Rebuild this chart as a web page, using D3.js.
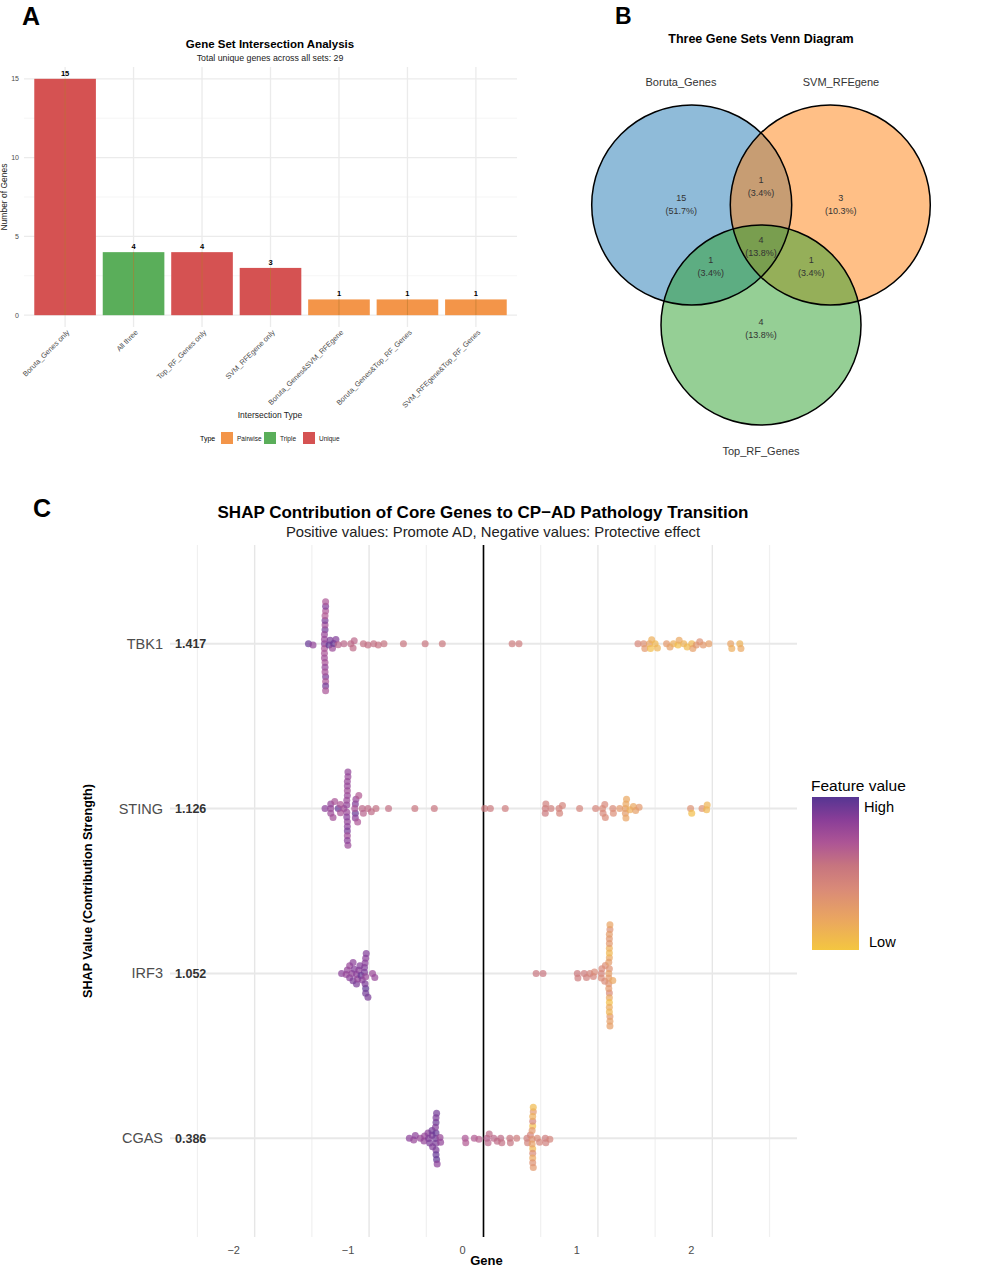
<!DOCTYPE html>
<html>
<head>
<meta charset="utf-8">
<script src="https://cdn.jsdelivr.net/npm/d3@7"></script>
<style>
body { margin: 0; background: #fff; }
svg { font-family: "Liberation Sans", Arial, sans-serif; }
</style>
</head>
<body>
<svg id="fig" width="1000" height="1270"></svg>
<script>
// ---------- Panel A: intersection bars
var interCats = ["Boruta_Genes only", "All three", "Top_RF_Genes only", "SVM_RFEgene only",
  "Boruta_Genes&SVM_RFEgene", "Boruta_Genes&Top_RF_Genes", "SVM_RFEgene&Top_RF_Genes"];
var interCounts = [15, 4, 4, 3, 1, 1, 1];
var interTypes = ["Unique", "Triple", "Unique", "Unique", "Pairwise", "Pairwise", "Pairwise"];
var typeNames = ["Pairwise", "Triple", "Unique"];
var typeColors = ["#f39549", "#5aae5a", "#d55252"];
var yTicksA = [0, 5, 10, 15];

// ---------- Panel B: venn
var vennSets = ["Boruta_Genes", "SVM_RFEgene", "Top_RF_Genes"];
var vennColors = ["#1f77b4", "#ff7f0e", "#2ca02c"];
var vennRegions = [[0], [1], [2], [0, 1], [0, 2], [1, 2], [0, 1, 2]];
var vennCounts = [15, 3, 4, 1, 1, 1, 4];

// ---------- Panel C: SHAP beeswarm  [shap value, feature value 0=low..1=high]
var genes = ["TBK1", "STING", "IRF3", "CGAS"];
var meanAbs = ["1.417", "1.126", "1.052", "0.386"];
var shapTicks = [-2, -1, 0, 1, 2];

var tbk1 = [
  [-1.53,0.95],[-1.49,0.82],
  [-1.385,0.92],[-1.38,0.9],[-1.39,0.86],[-1.385,0.72],[-1.38,0.7],[-1.39,0.72],[-1.385,0.76],[-1.38,0.7],
  [-1.39,0.8],[-1.385,0.82],[-1.38,0.88],[-1.39,0.72],[-1.385,0.9],[-1.38,0.92],[-1.39,0.8],[-1.385,0.74],
  [-1.38,0.7],[-1.39,0.76],[-1.385,0.68],[-1.38,0.72],
  [-1.35,0.97],[-1.34,0.9],[-1.32,0.78],[-1.31,0.95],[-1.29,0.88],[-1.27,0.64],[-1.22,0.62],[-1.16,0.6],
  [-1.14,0.6],[-1.13,0.62],[-1.05,0.58],[-1.01,0.58],[-0.96,0.58],[-0.92,0.57],[-0.87,0.56],[-0.70,0.55],
  [-0.51,0.55],[-0.36,0.53],
  [0.25,0.5],[0.31,0.5],
  [1.35,0.42],[1.40,0.36],[1.41,0.3],[1.45,0.22],[1.46,0.05],[1.47,0.15],[1.50,0.1],[1.52,0.12],[1.60,0.3],
  [1.63,0.25],[1.66,0.15],[1.70,0.05],[1.71,0.2],[1.75,0.14],[1.78,0.08],[1.82,0.1],[1.83,0.26],[1.86,0.32],
  [1.89,0.36],[1.92,0.3],[1.97,0.26],[2.16,0.22],[2.17,0.16],[2.24,0.14],[2.25,0.2]
];
var sting = [
  [-1.385,0.85],[-1.335,0.8],[-1.335,0.78],[-1.335,0.82],[-1.315,0.75],[-1.30,0.72],[-1.27,0.95],[-1.25,0.72],
  [-1.25,0.7],[-1.22,0.75],
  [-1.19,0.82],[-1.19,0.8],[-1.195,0.78],[-1.19,0.84],[-1.185,0.8],[-1.19,0.76],[-1.195,0.82],[-1.19,0.9],
  [-1.185,0.78],[-1.19,0.8],[-1.195,0.86],[-1.19,0.76],[-1.185,0.82],[-1.19,0.8],[-1.195,0.78],[-1.19,0.84],
  [-1.12,0.95],[-1.12,0.88],[-1.125,0.72],[-1.12,0.85],[-1.115,0.8],
  [-1.10,0.7],[-1.09,0.68],[-1.06,0.62],[-1.05,0.64],[-1.01,0.6],[-0.98,0.6],[-0.94,0.58],[-0.83,0.58],
  [-0.60,0.55],[-0.43,0.55],
  [0.01,0.52],[0.06,0.52],[0.19,0.5],[0.54,0.5],[0.545,0.48],[0.54,0.52],[0.59,0.48],[0.66,0.47],[0.665,0.45],
  [0.69,0.45],[0.84,0.45],[0.98,0.44],[1.04,0.4],[1.045,0.42],[1.06,0.42],[1.065,0.4],[1.13,0.4],[1.135,0.38],
  [1.19,0.3],[1.24,0.25],[1.245,0.2],[1.24,0.28],[1.245,0.22],[1.25,0.2],[1.28,0.15],[1.31,0.2],[1.33,0.25],
  [1.36,0.3],[1.81,0.35],[1.82,0.05],[1.91,0.35],[1.95,0.1],[1.955,0.12]
];
var irf3 = [
  [-1.24,0.85],[-1.20,0.8],[-1.19,0.82],[-1.17,0.85],[-1.17,0.8],[-1.15,0.82],[-1.14,0.9],[-1.14,0.85],
  [-1.13,0.88],[-1.11,0.85],[-1.11,0.9],[-1.10,0.82],[-1.09,0.85],[-1.08,0.88],[-1.07,0.95],[-1.06,0.85],
  [-1.04,0.9],[-1.04,0.88],
  [-1.03,0.8],[-1.03,0.97],[-1.035,0.9],[-1.03,0.85],[-1.025,0.88],[-1.03,0.92],[-1.035,0.86],
  [-1.01,0.9],[-0.97,0.78],[-0.95,0.8],
  [0.46,0.55],[0.52,0.55],[0.82,0.52],[0.825,0.5],[0.88,0.5],[0.90,0.48],[0.93,0.45],[0.96,0.45],[0.97,0.4],
  [1.03,0.45],[1.035,0.42],[1.03,0.4],[1.06,0.4],[1.065,0.38],
  [1.10,0.35],[1.10,0.2],[1.105,0.3],[1.095,0.25],[1.10,0.4],[1.10,0.1],[1.105,0.35],[1.095,0.3],[1.10,0.2],
  [1.10,0.15],[1.105,0.25],[1.095,0.35],[1.10,0.05],[1.10,0.3],[1.105,0.22],[1.095,0.28],[1.10,0.18],
  [1.10,0.32],[1.105,0.26],[1.095,0.3],[1.10,0.12],[1.10,0.28],
  [1.13,0.2]
];
var cgas = [
  [-0.648,0.85],[-0.61,0.8],[-0.596,0.85],[-0.552,0.8],[-0.52,0.82],[-0.515,0.8],[-0.485,0.85],[-0.48,0.88],
  [-0.47,0.9],[-0.45,0.9],[-0.45,0.92],[-0.445,0.88],
  [-0.415,0.9],[-0.415,0.95],[-0.42,0.92],[-0.41,0.97],[-0.415,0.9],[-0.415,0.94],[-0.42,0.88],[-0.41,0.92],
  [-0.415,0.96],[-0.415,0.9],
  [-0.405,0.85],[-0.38,0.8],[-0.375,0.82],
  [-0.16,0.7],[-0.155,0.68],[-0.08,0.68],[-0.04,0.65],[0.03,0.65],[0.04,0.62],[0.05,0.6],[0.09,0.62],
  [0.12,0.6],[0.15,0.6],[0.16,0.58],[0.23,0.55],[0.235,0.56],[0.29,0.5],[0.38,0.48],[0.385,0.46],[0.41,0.45],
  [0.43,0.1],[0.43,0.05],[0.435,0.3],[0.425,0.35],[0.43,0.4],[0.43,0.45],[0.435,0.3],[0.425,0.25],[0.43,0.2],
  [0.43,0.15],[0.435,0.08],[0.425,0.3],[0.43,0.35],
  [0.47,0.4],[0.49,0.45],[0.54,0.5],[0.545,0.48],[0.58,0.45]
];
var geneData = [tbk1, sting, irf3, cgas];

var featStops = [0, 0.2, 0.4, 0.55, 0.7, 0.85, 1];
var featColors = ["#f4c640", "#eaa660", "#d98a78", "#c7757f", "#ad5595", "#8a3e98", "#563592"];

var svg = d3.select("#fig");
var grid = "#ebebeb";

// panel letters
svg.append("text").attr("x", 22).attr("y", 25).text("A")
  .style("font-size", "25px").style("font-weight", "bold");
svg.append("text").attr("x", 615).attr("y", 24).text("B")
  .style("font-size", "23px").style("font-weight", "bold");
svg.append("text").attr("x", 33).attr("y", 517).text("C")
  .style("font-size", "25px").style("font-weight", "bold");

// ================= Panel A =================
var gA = svg.append("g");
var xA = d3.scalePoint().domain(interCats).range([24, 517]).padding(0.6);
var yA = d3.scaleLinear().domain([-0.75, 15.75]).range([327, 67]);
var colA = d3.scaleOrdinal().domain(typeNames).range(typeColors);
var barW = xA.step() * 0.9;

// grid
gA.append("g").selectAll("line").data([2.5, 7.5, 12.5]).join("line")
  .attr("x1", 24).attr("x2", 517).attr("y1", d => yA(d)).attr("y2", d => yA(d))
  .style("stroke", "#f2f2f2").style("stroke-width", 0.8);
gA.append("g").selectAll("line").data(yTicksA).join("line")
  .attr("x1", 24).attr("x2", 517).attr("y1", d => yA(d)).attr("y2", d => yA(d))
  .style("stroke", grid).style("stroke-width", 1.3);
gA.append("g").selectAll("line").data(interCats).join("line")
  .attr("x1", d => xA(d)).attr("x2", d => xA(d)).attr("y1", 67).attr("y2", 327)
  .style("stroke", grid).style("stroke-width", 1.3);

// bars
gA.append("g").selectAll("rect").data(interCats).join("rect")
  .attr("x", d => xA(d) - barW / 2)
  .attr("y", (d, i) => yA(interCounts[i]))
  .attr("width", barW)
  .attr("height", (d, i) => yA(0) - yA(interCounts[i]))
  .style("fill", (d, i) => colA(interTypes[i]));
gA.append("g").selectAll("line").data(interCats).join("line")
  .attr("x1", d => xA(d)).attr("x2", d => xA(d))
  .attr("y1", (d, i) => yA(interCounts[i])).attr("y2", yA(0))
  .style("stroke", "#b8782c").style("stroke-opacity", 0.55).style("stroke-width", 1);

gA.append("g").selectAll("text").data(interCats).join("text")
  .attr("x", d => xA(d)).attr("y", (d, i) => yA(interCounts[i]) - 3)
  .attr("text-anchor", "middle").text((d, i) => interCounts[i])
  .style("font-size", "7.5px").style("font-weight", "bold");

// y ticks
gA.append("g").selectAll("text").data(yTicksA).join("text")
  .attr("x", 19).attr("y", d => yA(d) + 2.5).attr("text-anchor", "end").text(d => d)
  .style("font-size", "7px").style("fill", "#4d4d4d");
gA.append("text").attr("transform", "translate(7," + yA(7.5) + ") rotate(-90)")
  .attr("text-anchor", "middle").text("Number of Genes")
  .style("font-size", "8.5px").style("fill", "#222");

// x labels
gA.append("g").selectAll("text").data(interCats).join("text")
  .attr("transform", d => "translate(" + (xA(d) + 3) + ",331) rotate(-45)")
  .attr("text-anchor", "end").attr("dy", "0.35em").text(d => d)
  .style("font-size", "7.3px").style("fill", "#4d4d4d");
gA.append("text").attr("x", 270).attr("y", 418).attr("text-anchor", "middle")
  .text("Intersection Type").style("font-size", "8.5px").style("fill", "#222");

// titles
gA.append("text").attr("x", 270).attr("y", 48).attr("text-anchor", "middle")
  .text("Gene Set Intersection Analysis").style("font-size", "11.5px").style("font-weight", "bold");
gA.append("text").attr("x", 270).attr("y", 61).attr("text-anchor", "middle")
  .text("Total unique genes across all sets: 29").style("font-size", "8.8px").style("fill", "#222");

// legend
var legA = gA.append("g").attr("transform", "translate(200,432)");
legA.append("text").attr("x", 0).attr("y", 8.5).text("Type").style("font-size", "7px");
var keyX = [21, 64, 103];
legA.append("g").selectAll("rect").data(typeNames).join("rect")
  .attr("x", (d, i) => keyX[i]).attr("y", 0).attr("width", 12).attr("height", 12)
  .style("fill", d => colA(d));
legA.append("g").selectAll("text").data(typeNames).join("text")
  .attr("x", (d, i) => keyX[i] + 16).attr("y", 8.5).text(d => d)
  .style("font-size", "6.5px").style("fill", "#222");

// ================= Panel B =================
var gB = svg.append("g");
var vennCx = 761, vennCy = 245, vennDist = 80, vennR = 100;
var vennAng = [-150, -30, 90];
var vennCenters = vennAng.map(a => [vennCx + vennDist * Math.cos(a * Math.PI / 180),
                                     vennCy + vennDist * Math.sin(a * Math.PI / 180)]);
var vennTotal = d3.sum(vennCounts);

gB.append("g").selectAll("circle").data(vennSets).join("circle")
  .attr("cx", (d, i) => vennCenters[i][0]).attr("cy", (d, i) => vennCenters[i][1])
  .attr("r", vennR).style("fill", (d, i) => vennColors[i]).style("fill-opacity", 0.5);
gB.append("g").selectAll("circle").data(vennSets).join("circle")
  .attr("cx", (d, i) => vennCenters[i][0]).attr("cy", (d, i) => vennCenters[i][1])
  .attr("r", vennR).style("fill", "none").style("stroke", "#000").style("stroke-width", 1.5);

// label anchor: pushed out from the centroid along the mean of the member centres
function regionPos(r) {
  var mx = d3.mean(r, k => vennCenters[k][0]);
  var my = d3.mean(r, k => vennCenters[k][1]);
  if (r.length == 1) return [vennCx + 1.15 * (mx - vennCx), vennCy + 1.03 * (my - vennCy) + 1];
  if (r.length == 2) return [vennCx + 1.45 * (mx - vennCx), vennCy + 1.33 * (my - vennCy) - 5];
  return [vennCx, vennCy + 1.5];
}
var pctFmt = d3.format(".1%");
vennRegions.forEach(function(r, i) {
  var p = regionPos(r);
  gB.append("text").attr("x", p[0]).attr("y", p[1] - 3.5).attr("text-anchor", "middle")
    .text(vennCounts[i]).style("font-size", "9px").style("fill", "#333");
  gB.append("text").attr("x", p[0]).attr("y", p[1] + 9.5).attr("text-anchor", "middle")
    .text("(" + pctFmt(vennCounts[i] / vennTotal) + ")").style("font-size", "9px").style("fill", "#333");
});
var setLabelPos = [[681, 86], [841, 86], [761, 455]];
gB.append("g").selectAll("text").data(vennSets).join("text")
  .attr("x", (d, i) => setLabelPos[i][0]).attr("y", (d, i) => setLabelPos[i][1])
  .attr("text-anchor", "middle").text(d => d)
  .style("font-size", "11px").style("fill", "#333");
gB.append("text").attr("x", 761).attr("y", 43).attr("text-anchor", "middle")
  .text("Three Gene Sets Venn Diagram").style("font-size", "12.5px").style("font-weight", "bold");

// ================= Panel C =================
var gC = svg.append("g");
var cTop = 545, cBottom = 1237, cLeft = 170, cRight = 797;
var xC = d3.scaleLinear().domain([-2.74, 2.74]).range([cLeft, cRight]);
var yC = d3.scalePoint().domain(genes).range([cTop, cBottom]).padding(0.6);
var featColor = d3.scaleLinear().domain(featStops).range(featColors);

// grid
gC.append("g").selectAll("line").data([-2.5, -1.5, -0.5, 0.5, 1.5, 2.5]).join("line")
  .attr("x1", d => xC(d)).attr("x2", d => xC(d)).attr("y1", cTop).attr("y2", cBottom)
  .style("stroke", "#f0f0f0").style("stroke-width", 1.2);
gC.append("g").selectAll("line").data(shapTicks).join("line")
  .attr("x1", d => xC(d)).attr("x2", d => xC(d)).attr("y1", cTop).attr("y2", cBottom)
  .style("stroke", "#e6e6e6").style("stroke-width", 1.4);
gC.append("g").selectAll("line").data(genes).join("line")
  .attr("x1", cLeft).attr("x2", cRight).attr("y1", d => yC(d)).attr("y2", d => yC(d))
  .style("stroke", "#e8e8e8").style("stroke-width", 2);

// zero line
gC.append("line").attr("x1", xC(0)).attr("x2", xC(0)).attr("y1", cTop).attr("y2", cBottom)
  .style("stroke", "#000").style("stroke-width", 1.6);

// beeswarm layout
function swarm(vals, d) {
  var order = d3.range(vals.length).sort((a, b) => vals[a][0] - vals[b][0]);
  var placed = [];
  var out = new Array(vals.length);
  order.forEach(function(i) {
    var px = xC(vals[i][0]);
    var near = placed.filter(p => Math.abs(p.x - px) < d);
    var cands = [0];
    near.forEach(function(p) {
      var dy = Math.sqrt(d * d - (p.x - px) * (p.x - px));
      cands.push(p.y + dy, p.y - dy);
    });
    cands.sort((a, b) => Math.abs(a) - Math.abs(b));
    var y = cands.find(c => near.every(p => (p.x - px) * (p.x - px) + (p.y - c) * (p.y - c) >= d * d - 0.01));
    placed.push({x: px, y: y});
    out[i] = {x: px, y: y, f: vals[i][1]};
  });
  return out;
}

genes.forEach(function(g, gi) {
  var pts = swarm(geneData[gi], 4.7);
  gC.append("g").selectAll("circle").data(pts).join("circle")
    .attr("cx", d => d.x).attr("cy", d => yC(g) + d.y).attr("r", 3.5)
    .style("fill", d => featColor(d.f)).style("fill-opacity", 0.7);
});

// gene labels
gC.append("g").selectAll("text").data(genes).join("text")
  .attr("x", 163).attr("y", d => yC(d) + 5).attr("text-anchor", "end").text(d => d)
  .style("font-size", "14.5px").style("fill", "#4d4d4d");
gC.append("g").selectAll("text").data(genes).join("text")
  .attr("x", 175).attr("y", d => yC(d) + 4.5).text((d, i) => meanAbs[i])
  .style("font-size", "12.5px").style("font-weight", "bold").style("fill", "#333");

// x axis (labels sit left of their grid lines in the original)
var axC = gC.append("g").attr("transform", "translate(0," + cBottom + ")")
  .call(d3.axisBottom(xC).tickValues(shapTicks).tickFormat(d3.format("d")).tickSize(0).tickPadding(9));
axC.select(".domain").remove();
axC.selectAll("text").attr("dx", -21.5).style("font-size", "11px").style("fill", "#4d4d4d")
  .style("font-family", "'Liberation Sans', Arial, sans-serif");
gC.append("text").attr("x", xC(0) + 3).attr("y", 1265).attr("text-anchor", "middle")
  .text("Gene").style("font-size", "13px").style("font-weight", "bold");
gC.append("text").attr("transform", "translate(92," + (cTop + cBottom) / 2 + ") rotate(-90)")
  .attr("text-anchor", "middle").text("SHAP Value (Contribution Strength)")
  .style("font-size", "12.6px").style("font-weight", "bold");

// titles
gC.append("text").attr("x", 483).attr("y", 518).attr("text-anchor", "middle")
  .text("SHAP Contribution of Core Genes to CP\u2212AD Pathology Transition")
  .style("font-size", "17px").style("font-weight", "bold");
gC.append("text").attr("x", 493).attr("y", 537).attr("text-anchor", "middle")
  .text("Positive values: Promote AD, Negative values: Protective effect")
  .style("font-size", "14.8px").style("fill", "#222");

// legend
var defs = svg.append("defs");
var grad = defs.append("linearGradient").attr("id", "featGrad")
  .attr("x1", 0).attr("y1", 1).attr("x2", 0).attr("y2", 0);
grad.selectAll("stop").data(featStops).join("stop")
  .attr("offset", d => d).attr("stop-color", (d, i) => featColors[i]);
var legC = gC.append("g").attr("transform", "translate(812,797)");
legC.append("text").attr("x", -1).attr("y", -6).text("Feature value").style("font-size", "15.5px");
legC.append("rect").attr("width", 47).attr("height", 153).style("fill", "url(#featGrad)");
legC.append("text").attr("x", 52).attr("y", 15).text("High").style("font-size", "14.6px");
legC.append("text").attr("x", 57).attr("y", 150).text("Low").style("font-size", "14.6px");
</script>
</body>
</html>
